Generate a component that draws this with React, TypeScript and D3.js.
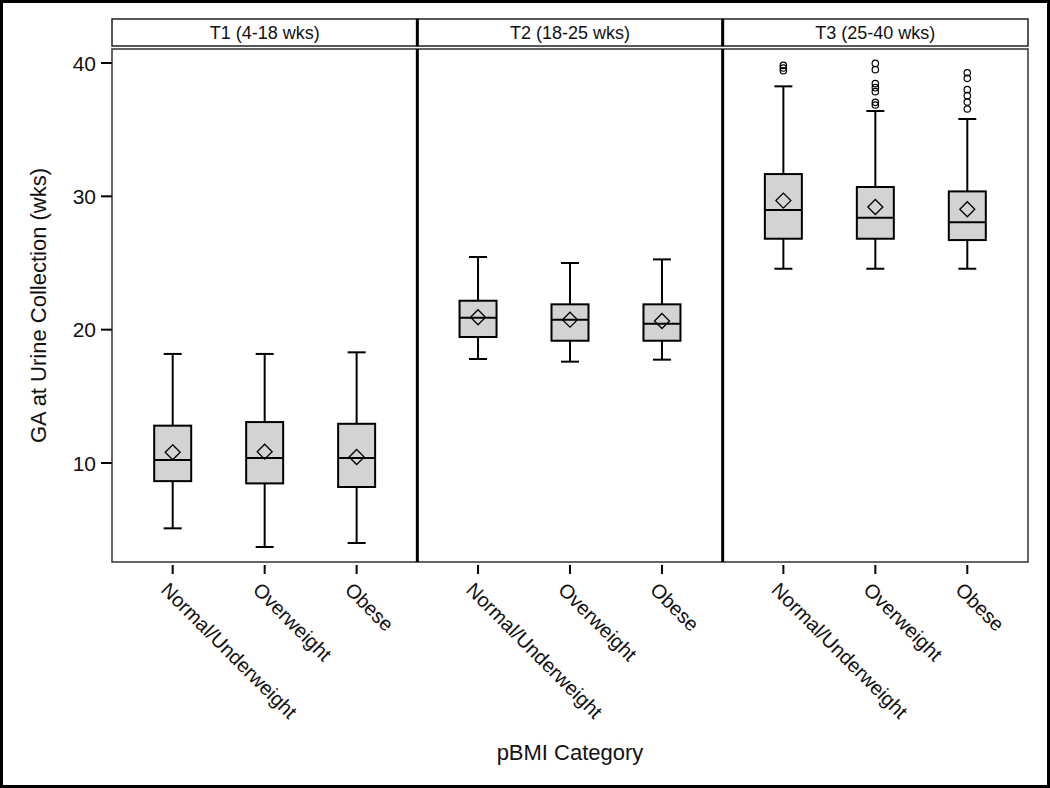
import React from "react";
import * as d3 from "d3";

const panels = ["T1 (4-18 wks)", "T2 (18-25 wks)", "T3 (25-40 wks)"];
const categories = ["Normal/Underweight", "Overweight", "Obese"];

// per panel, per category
const whiskerLow = [
  [5.1, 3.7, 4.0],
  [17.8, 17.6, 17.75],
  [24.57, 24.57, 24.57],
];
const q1 = [
  [8.64, 8.47, 8.2],
  [19.45, 19.17, 19.17],
  [26.82, 26.82, 26.72],
];
const medians = [
  [10.22, 10.37, 10.37],
  [20.9, 20.75, 20.45],
  [28.97, 28.4, 28.05],
];
const q3 = [
  [12.8, 13.07, 12.94],
  [22.17, 21.9, 21.9],
  [31.67, 30.7, 30.37],
];
const whiskerHigh = [
  [18.18, 18.18, 18.3],
  [25.45, 25.0, 25.27],
  [38.25, 36.4, 35.8],
];
const means = [
  [10.8, 10.85, 10.45],
  [20.93, 20.75, 20.65],
  [29.68, 29.2, 29.03],
];
const outliers = [
  [[], [], []],
  [[], [], []],
  [
    [39.82, 39.62, 39.42],
    [39.97, 39.5, 38.45, 38.15, 37.85, 37.05, 36.85],
    [39.27, 38.85, 38.0, 37.55, 37.07, 36.55],
  ],
];
const yTicks = [10, 20, 30, 40];

const W = 1050;
const H = 788;
const plotLeft = 112;
const plotRight = 1028;
const headerTop = 19;
const headerBottom = 46;
const plotTop = 49;
const plotBottom = 562;
const font = "'Liberation Sans', Arial, sans-serif";

export default function App() {
  const y = d3.scaleLinear().domain([10, 40]).range([463, 63]);
  const panelScale = d3
    .scaleBand<number>()
    .domain(panels.map((_, i) => i))
    .range([plotLeft, plotRight])
    .paddingInner(0)
    .paddingOuter(0);
  const pw = panelScale.bandwidth();
  const x = d3.scalePoint<string>().domain(categories).range([0, pw]).padding(0.66);
  const boxW = 37;
  const capW = 18;
  const dm = 7.5;

  return (
    <svg
      width={W}
      height={H}
      style={{ position: "absolute", left: 0, top: 0, background: "#fff" }}
      fontFamily={font}
    >
      <rect x={0} y={0} width={W} height={H} fill="#fff" />
      <rect x={1.5} y={1.5} width={W - 3} height={H - 3} fill="none" stroke="#000" strokeWidth={3} />

      {/* headers */}
      {panels.map((p, i) => {
        const px = panelScale(i)!;
        return (
          <g key={"h" + i}>
            <rect
              x={px}
              y={headerTop}
              width={pw}
              height={headerBottom - headerTop}
              fill="#fff"
              stroke="#222"
              strokeWidth={1.5}
            />
            <text x={px + pw / 2} y={headerTop + 20} fontSize={18} textAnchor="middle" fill="#111">
              {p}
            </text>
          </g>
        );
      })}

      {/* plot frame */}
      <rect
        x={plotLeft}
        y={plotTop}
        width={plotRight - plotLeft}
        height={plotBottom - plotTop}
        fill="none"
        stroke="#333"
        strokeWidth={1.5}
      />
      {panels.slice(1).map((_, k) => {
        const px = panelScale(k + 1)!;
        return (
          <g key={"d" + k}>
            <line x1={px} x2={px} y1={headerTop} y2={headerBottom} stroke="#000" strokeWidth={3} />
            <line x1={px} x2={px} y1={plotTop} y2={plotBottom} stroke="#000" strokeWidth={3} />
          </g>
        );
      })}

      {/* y axis */}
      {yTicks.map((t) => (
        <g key={"yt" + t}>
          <line x1={plotLeft - 11} x2={plotLeft} y1={y(t)} y2={y(t)} stroke="#000" strokeWidth={2} />
          <text x={plotLeft - 16} y={y(t) + 7.5} fontSize={21} textAnchor="end" fill="#111">
            {t}
          </text>
        </g>
      ))}
      <text
        transform={`translate(46, ${(plotTop + plotBottom) / 2}) rotate(-90)`}
        fontSize={22}
        textAnchor="middle"
        fill="#111"
      >
        GA at Urine Collection (wks)
      </text>

      {/* boxes */}
      {panels.map((_, i) => {
        const px = panelScale(i)!;
        return (
          <g key={"p" + i}>
            {categories.map((c, j) => {
              const cx = px + x(c)!;
              return (
                <g key={c}>
                  <line x1={cx} x2={cx} y1={y(whiskerHigh[i][j])} y2={y(q3[i][j])} stroke="#000" strokeWidth={2} />
                  <line x1={cx} x2={cx} y1={y(q1[i][j])} y2={y(whiskerLow[i][j])} stroke="#000" strokeWidth={2} />
                  <line
                    x1={cx - capW / 2}
                    x2={cx + capW / 2}
                    y1={y(whiskerHigh[i][j])}
                    y2={y(whiskerHigh[i][j])}
                    stroke="#000"
                    strokeWidth={2}
                  />
                  <line
                    x1={cx - capW / 2}
                    x2={cx + capW / 2}
                    y1={y(whiskerLow[i][j])}
                    y2={y(whiskerLow[i][j])}
                    stroke="#000"
                    strokeWidth={2}
                  />
                  <rect
                    x={cx - boxW / 2}
                    y={y(q3[i][j])}
                    width={boxW}
                    height={y(q1[i][j]) - y(q3[i][j])}
                    fill="#d3d3d3"
                    stroke="#000"
                    strokeWidth={2}
                  />
                  <line
                    x1={cx - boxW / 2}
                    x2={cx + boxW / 2}
                    y1={y(medians[i][j])}
                    y2={y(medians[i][j])}
                    stroke="#000"
                    strokeWidth={2}
                  />
                  <path
                    d={`M${cx},${y(means[i][j]) - dm} L${cx + dm},${y(means[i][j])} L${cx},${y(means[i][j]) + dm} L${cx - dm},${y(means[i][j])} Z`}
                    fill="none"
                    stroke="#000"
                    strokeWidth={1.3}
                  />
                  {outliers[i][j].map((o, k) => (
                    <circle key={k} cx={cx} cy={y(o)} r={3.2} fill="none" stroke="#000" strokeWidth={1.2} />
                  ))}
                  {/* x tick */}
                  <line x1={cx} x2={cx} y1={plotBottom + 3} y2={plotBottom + 12} stroke="#000" strokeWidth={2} />
                  <text
                    transform={`translate(${cx - 13}, ${plotBottom + 29}) rotate(45)`}
                    fontSize={20}
                    textAnchor="start"
                    fill="#111"
                  >
                    {c}
                  </text>
                </g>
              );
            })}
          </g>
        );
      })}

      <text x={(plotLeft + plotRight) / 2} y={760} fontSize={22} textAnchor="middle" fill="#111">
        pBMI Category
      </text>
    </svg>
  );
}
